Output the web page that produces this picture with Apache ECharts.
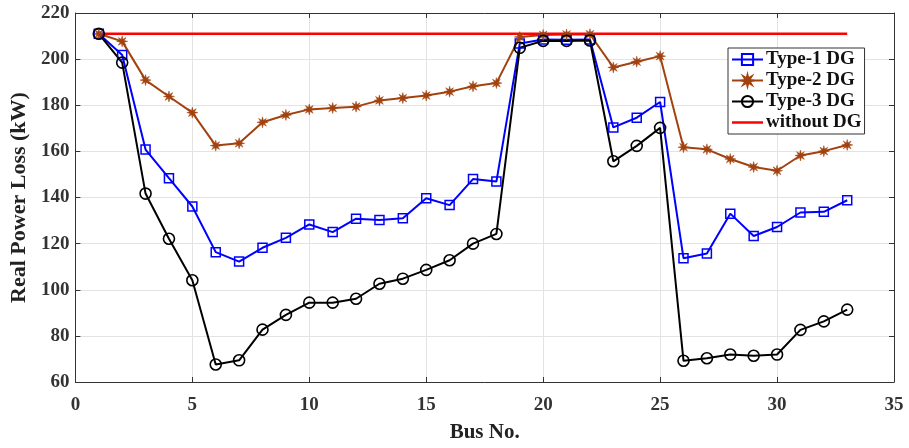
<!DOCTYPE html>
<html>
<head>
<meta charset="utf-8">
<script src="https://cdn.jsdelivr.net/npm/echarts@6/dist/echarts.min.js"></script>
<style>
  html, body { margin: 0; padding: 0; background: #fff; }
  #chart { width: 909px; height: 448px; }
</style>
</head>
<body>
<div id="chart"></div>
<script>
// Bus numbers of the 33-bus feeder
const buses = [1,2,3,4,5,6,7,8,9,10,11,12,13,14,15,16,17,18,19,20,21,22,23,24,25,26,27,28,29,30,31,32,33];

// Real power loss (kW) with a DG placed at each bus
const type1 = [210.98,201.8,160.8,148.4,136.1,116.3,112.2,118.2,122.5,128.3,125.0,130.8,130.2,131.0,139.7,136.7,148.0,146.9,206.8,208.5,208.4,208.5,170.4,174.6,181.4,113.7,115.7,133.0,123.3,127.2,133.5,133.8,138.8];
const type2 = [210.98,207.7,190.9,183.8,176.8,162.5,163.5,172.6,175.8,178.2,178.8,179.4,182.1,183.1,184.2,185.9,188.2,189.6,209.6,210.5,210.7,210.8,196.4,198.9,201.3,161.8,160.9,156.7,153.2,151.6,158.2,160.1,162.8];
const type3 = [210.98,198.5,141.7,122.1,104.1,67.6,69.4,82.7,89.1,94.4,94.4,96.1,102.6,104.8,108.6,112.8,120.0,124.2,204.9,207.9,207.9,208.1,155.7,162.4,170.2,69.2,70.3,71.9,71.4,71.9,82.6,86.3,91.4];

// Base case loss without any DG (kW)
const baseLoss = 210.98;

// Axis ranges and tick steps
const xTicks = { min: 0, max: 35, step: 5 };
const yTicks = { min: 60, max: 220, step: 20 };

const seriesNames = ['Type-1 DG', 'Type-2 DG', 'Type-3 DG', 'without DG'];

const pairs = vals => buses.map((b, i) => [b, vals[i]]);

// eight-pointed asterisk marker
const asterisk = 'path://M10,0 L11.53,6.3 L17.07,2.93 L13.7,8.47 L20,10 L13.7,11.53 L17.07,17.07 L11.53,13.7 L10,20 L8.47,13.7 L2.93,17.07 L6.3,11.53 L0,10 L6.3,8.47 L2.93,2.93 L8.47,6.3 Z';
// plain line sample for the legend entry without markers
const lineIcon = 'path://M0,0 L31,0 L31,2.5 L0,2.5 Z';

const FONT = '"Liberation Serif", "Times New Roman", serif';
const AXIS_COLOR = '#333';
const GRID_COLOR = '#e3e3e3';

const chart = echarts.init(document.getElementById('chart'), null, { renderer: 'canvas' });

const baseX = {
  type: 'value', min: xTicks.min, max: xTicks.max, interval: xTicks.step,
  axisLine: { show: true, onZero: false, lineStyle: { color: AXIS_COLOR, width: 1 } },
  axisTick: { show: true, inside: true, length: 5, lineStyle: { color: AXIS_COLOR } },
  splitLine: { show: false }
};
const baseY = {
  type: 'value', min: yTicks.min, max: yTicks.max, interval: yTicks.step,
  axisLine: { show: true, onZero: false, lineStyle: { color: AXIS_COLOR, width: 1 } },
  axisTick: { show: true, inside: true, length: 5, lineStyle: { color: AXIS_COLOR } },
  splitLine: { show: false }
};

chart.setOption({
  animation: false,
  backgroundColor: '#fff',
  grid: { left: 74, right: 15, top: 13, bottom: 60, containLabel: false },
  legend: {
    orient: 'vertical',
    left: 728, top: 48,
    data: [
      { name: seriesNames[0] },
      { name: seriesNames[1] },
      { name: seriesNames[2] },
      { name: seriesNames[3], icon: lineIcon }
    ],
    backgroundColor: '#fff',
    borderColor: '#333',
    borderWidth: 1,
    padding: [2, 3, 2, 3],
    itemWidth: 31,
    itemHeight: 14,
    itemGap: 2,
    textStyle: { fontFamily: FONT, fontWeight: 'bold', fontSize: 19, lineHeight: 19, color: '#111', padding: [0, 0, 0, -2] }
  },
  xAxis: [
    Object.assign({}, baseX, {
      position: 'bottom',
      name: 'Bus No.', nameLocation: 'middle', nameGap: 40,
      nameTextStyle: { fontFamily: FONT, fontWeight: 'bold', fontSize: 21, color: '#222' },
      axisLabel: { margin: 14, fontFamily: FONT, fontWeight: 'bold', fontSize: 19, color: '#333' },
      splitLine: { show: true, lineStyle: { color: GRID_COLOR, width: 1 } }
    }),
    Object.assign({}, baseX, { position: 'top', axisLabel: { show: false } })
  ],
  yAxis: [
    Object.assign({}, baseY, {
      position: 'left',
      name: 'Real Power Loss (kW)', nameLocation: 'middle', nameGap: 38,
      nameTextStyle: { fontFamily: FONT, fontWeight: 'bold', fontSize: 22, color: '#222' },
      axisLabel: { margin: 6, fontFamily: FONT, fontWeight: 'bold', fontSize: 19, color: '#333' },
      splitLine: { show: true, lineStyle: { color: GRID_COLOR, width: 1 } }
    }),
    Object.assign({}, baseY, { position: 'right', axisLabel: { show: false } })
  ],
  series: [
    {
      name: seriesNames[0], type: 'line', data: pairs(type1),
      symbol: 'rect', symbolSize: 9, showAllSymbol: true,
      lineStyle: { color: '#0000ff', width: 2 },
      itemStyle: { color: 'rgba(255,255,255,0)', borderColor: '#0000ff', borderWidth: 1.5 },
      emphasis: { disabled: true }
    },
    {
      name: seriesNames[1], type: 'line', data: pairs(type2),
      symbol: asterisk, symbolSize: 11, showAllSymbol: true,
      lineStyle: { color: '#a2430f', width: 2 },
      itemStyle: { color: '#a2430f', borderColor: '#a2430f', borderWidth: 0.5 },
      emphasis: { disabled: true }
    },
    {
      name: seriesNames[2], type: 'line', data: pairs(type3),
      symbol: 'circle', symbolSize: 11, showAllSymbol: true,
      lineStyle: { color: '#000', width: 2 },
      itemStyle: { color: 'rgba(255,255,255,0)', borderColor: '#000', borderWidth: 1.6 },
      emphasis: { disabled: true }
    },
    {
      name: seriesNames[3], type: 'line',
      data: [[buses[0], baseLoss], [buses[buses.length - 1], baseLoss]],
      symbol: 'none',
      lineStyle: { color: '#ff0000', width: 2.5 },
      itemStyle: { color: '#ff0000' },
      emphasis: { disabled: true }
    }
  ]
});
</script>
</body>
</html>
